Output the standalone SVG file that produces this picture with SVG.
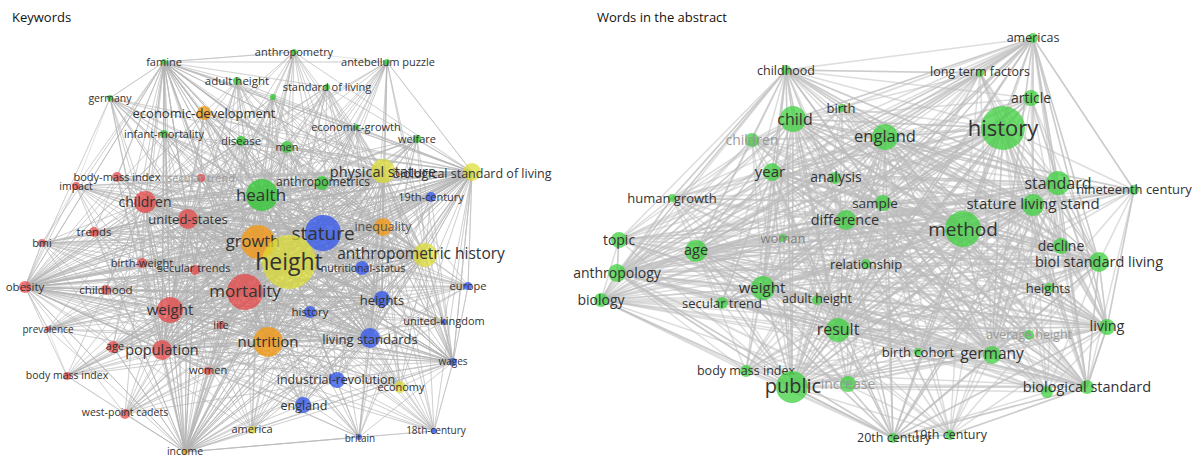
<svg xmlns="http://www.w3.org/2000/svg" width="1194" height="458" viewBox="0 0 1194 458">
<style>
.e1{fill:none;stroke:#b4b4b4;stroke-width:.75;stroke-opacity:.5}
.e2{fill:none;stroke:#bcbcbc;stroke-width:1.5;stroke-opacity:.5}
text{font-family:"Open Sans","Noto Sans",sans-serif;fill:#333;text-anchor:middle}
.title{text-anchor:start;fill:#111;font-size:13px}
text.lt{fill:#999}
text.mg{fill:#808080}
text.md{fill:#555}
.g{fill:#33c833;fill-opacity:.78}
.r{fill:#e84444;fill-opacity:.72}
.b{fill:#3558ea;fill-opacity:.78}
.o{fill:#f29a18;fill-opacity:.8}
.y{fill:#dcdc30;fill-opacity:.72}
.gr{fill:#3fd03f;fill-opacity:.75}
</style>
<rect width="1194" height="458" fill="#fff"/>
<text class="title" x="12" y="22">Keywords</text>
<text class="title" x="597" y="22">Words in the abstract</text>
<g id="connectors">
<path class="e1" d="M289 262L164 62ZL294 52ZL387 62ZL237 81ZL327 87ZL273 97ZL110 98ZL204 113ZL164 134ZL241 141ZL287 147ZL356 127ZL417 139ZL117 177ZL201 178ZL76 186ZL262 195ZL322 183ZL383 171ZL472 172ZL431 197ZL145 202ZL188 219ZL94 232ZL42 243ZL323 233ZL383 227ZL258 242ZL425 255ZL362 268ZL142 263ZL195 270ZL25 287ZL106 290ZL245 292ZL468 286ZL382 299ZL170 310ZL310 312ZL444 322ZL48 329ZL221 325ZL113 347ZL162 350ZL268 342ZL370 338ZL453 362ZL67 376ZL208 371ZL337 380ZL400 387ZL303 405ZL125 414ZL252 430ZL359 437ZL434 431ZL185 452Z"/>
<path class="e1" d="M323 233L164 62ZL294 52ZL387 62ZL237 81ZL327 87ZL273 97ZL110 98ZL204 113ZL164 134ZL241 141ZL287 147ZL356 127ZL417 139ZL117 177ZL201 178ZL76 186ZL262 195ZL322 183ZL383 171ZL472 172ZL431 197ZL145 202ZL188 219ZL94 232ZL42 243ZL383 227ZL258 242ZL289 262ZL425 255ZL362 268ZL142 263ZL195 270ZL25 287ZL106 290ZL245 292ZL468 286ZL382 299ZL170 310ZL310 312ZL444 322ZL48 329ZL221 325ZL113 347ZL162 350ZL268 342ZL370 338ZL453 362ZL67 376ZL208 371ZL337 380ZL400 387ZL303 405ZL125 414ZL252 430ZL359 437ZL434 431ZL185 452Z"/>
<path class="e1" d="M245 292L164 62ZL294 52ZL387 62ZL237 81ZL327 87ZL273 97ZL110 98ZL204 113ZL164 134ZL241 141ZL287 147ZL356 127ZL417 139ZL117 177ZL201 178ZL76 186ZL262 195ZL322 183ZL383 171ZL472 172ZL431 197ZL145 202ZL188 219ZL94 232ZL42 243ZL323 233ZL383 227ZL258 242ZL289 262ZL425 255ZL362 268ZL142 263ZL195 270ZL25 287ZL106 290ZL468 286ZL382 299ZL170 310ZL310 312ZL444 322ZL48 329ZL221 325ZL113 347ZL162 350ZL268 342ZL370 338ZL453 362ZL67 376ZL208 371ZL337 380ZL400 387ZL303 405ZL125 414ZL252 430ZL359 437ZL434 431ZL185 452Z"/>
<path class="e1" d="M258 242L164 62ZL294 52ZL387 62ZL237 81ZL327 87ZL273 97ZL110 98ZL204 113ZL164 134ZL241 141ZL287 147ZL356 127ZL417 139ZL117 177ZL201 178ZL76 186ZL262 195ZL322 183ZL383 171ZL472 172ZL431 197ZL145 202ZL188 219ZL94 232ZL42 243ZL323 233ZL383 227ZL289 262ZL425 255ZL362 268ZL142 263ZL195 270ZL25 287ZL106 290ZL245 292ZL468 286ZL382 299ZL170 310ZL310 312ZL444 322ZL48 329ZL221 325ZL113 347ZL162 350ZL268 342ZL370 338ZL453 362ZL67 376ZL208 371ZL337 380ZL400 387ZL303 405ZL125 414ZL252 430ZL359 437ZL434 431ZL185 452Z"/>
<path class="e1" d="M262 195L164 62ZL294 52ZL387 62ZL237 81ZL327 87ZL273 97ZL110 98ZL204 113ZL164 134ZL241 141ZL287 147ZL356 127ZL417 139ZL117 177ZL201 178ZL76 186ZL322 183ZL383 171ZL472 172ZL431 197ZL145 202ZL188 219ZL94 232ZL42 243ZL323 233ZL383 227ZL258 242ZL289 262ZL425 255ZL362 268ZL142 263ZL195 270ZL25 287ZL106 290ZL245 292ZL468 286ZL382 299ZL170 310ZL310 312ZL444 322ZL48 329ZL221 325ZL113 347ZL162 350ZL268 342ZL370 338ZL453 362ZL67 376ZL208 371ZL337 380ZL400 387ZL303 405ZL125 414ZL252 430ZL359 437ZL434 431ZL185 452Z"/>
<path class="e1" d="M268 342L164 62ZL294 52ZL387 62ZL237 81ZL327 87ZL273 97ZL110 98ZL204 113ZL164 134ZL241 141ZL287 147ZL356 127ZL417 139ZL117 177ZL201 178ZL76 186ZL262 195ZL322 183ZL383 171ZL472 172ZL431 197ZL145 202ZL188 219ZL94 232ZL42 243ZL323 233ZL383 227ZL258 242ZL289 262ZL425 255ZL362 268ZL142 263ZL195 270ZL25 287ZL106 290ZL245 292ZL468 286ZL382 299ZL170 310ZL310 312ZL444 322ZL48 329ZL221 325ZL113 347ZL162 350ZL370 338ZL453 362ZL67 376ZL208 371ZL337 380ZL400 387ZL303 405ZL125 414ZL252 430ZL359 437ZL434 431ZL185 452Z"/>
<path class="e1" d="M170 310L164 62ZL294 52ZL387 62ZL237 81ZL327 87ZL273 97ZL110 98ZL204 113ZL164 134ZL241 141ZL287 147ZL356 127ZL417 139ZL117 177ZL201 178ZL76 186ZL262 195ZL322 183ZL383 171ZL472 172ZL431 197ZL145 202ZL188 219ZL94 232ZL42 243ZL323 233ZL383 227ZL258 242ZL289 262ZL425 255ZL362 268ZL142 263ZL195 270ZL25 287ZL106 290ZL245 292ZL468 286ZL382 299ZL310 312ZL444 322ZL48 329ZL221 325ZL113 347ZL162 350ZL268 342ZL370 338ZL453 362ZL67 376ZL208 371ZL337 380ZL400 387ZL303 405ZL125 414ZL252 430ZL359 437ZL434 431ZL185 452Z"/>
<path class="e1" d="M145 202L164 62ZL294 52ZL387 62ZL237 81ZL327 87ZL273 97ZL110 98ZL204 113ZL164 134ZL241 141ZL287 147ZL356 127ZL417 139ZL117 177ZL201 178ZL76 186ZL262 195ZL322 183ZL383 171ZL472 172ZL431 197ZL188 219ZL94 232ZL42 243ZL323 233ZL383 227ZL258 242ZL289 262ZL425 255ZL362 268ZL142 263ZL195 270ZL25 287ZL106 290ZL245 292ZL468 286ZL382 299ZL170 310ZL310 312ZL444 322ZL48 329ZL221 325ZL113 347ZL162 350ZL268 342ZL370 338ZL453 362ZL67 376ZL208 371ZL337 380ZL400 387ZL303 405ZL125 414ZL252 430ZL359 437ZL434 431ZL185 452Z"/>
<path class="e1" d="M162 350L164 62ZL294 52ZL387 62ZL237 81ZL327 87ZL273 97ZL110 98ZL204 113ZL164 134ZL241 141ZL287 147ZL356 127ZL417 139ZL117 177ZL201 178ZL76 186ZL262 195ZL322 183ZL383 171ZL472 172ZL431 197ZL145 202ZL188 219ZL94 232ZL42 243ZL323 233ZL383 227ZL258 242ZL289 262ZL425 255ZL362 268ZL142 263ZL195 270ZL25 287ZL106 290ZL245 292ZL468 286ZL382 299ZL170 310ZL310 312ZL444 322ZL48 329ZL221 325ZL113 347ZL268 342ZL370 338ZL453 362ZL67 376ZL208 371ZL337 380ZL400 387ZL303 405ZL125 414ZL252 430ZL359 437ZL434 431ZL185 452Z"/>
<path class="e1" d="M188 219L164 62ZL294 52ZL387 62ZL237 81ZL327 87ZL273 97ZL110 98ZL204 113ZL164 134ZL241 141ZL287 147ZL356 127ZL417 139ZL117 177ZL201 178ZL76 186ZL262 195ZL322 183ZL383 171ZL472 172ZL431 197ZL145 202ZL94 232ZL42 243ZL323 233ZL383 227ZL258 242ZL289 262ZL425 255ZL362 268ZL142 263ZL195 270ZL25 287ZL106 290ZL245 292ZL468 286ZL382 299ZL170 310ZL310 312ZL444 322ZL48 329ZL221 325ZL113 347ZL162 350ZL268 342ZL370 338ZL453 362ZL67 376ZL208 371ZL337 380ZL400 387ZL303 405ZL125 414ZL252 430ZL359 437ZL434 431ZL185 452Z"/>
<path class="e1" d="M370 338L164 62ZL294 52ZL387 62ZL237 81ZL327 87ZL273 97ZL110 98ZL204 113ZL164 134ZL241 141ZL287 147ZL356 127ZL417 139ZL117 177ZL201 178ZL76 186ZL262 195ZL322 183ZL383 171ZL472 172ZL431 197ZL145 202ZL188 219ZL94 232ZL42 243ZL323 233ZL383 227ZL258 242ZL289 262ZL425 255ZL362 268ZL142 263ZL195 270ZL25 287ZL106 290ZL245 292ZL468 286ZL382 299ZL170 310ZL310 312ZL444 322ZL48 329ZL221 325ZL113 347ZL162 350ZL268 342ZL453 362ZL67 376ZL208 371ZL337 380ZL400 387ZL303 405ZL125 414ZL252 430ZL359 437ZL434 431ZL185 452Z"/>
<path class="e1" d="M425 255L164 62ZL294 52ZL387 62ZL237 81ZL327 87ZL273 97ZL110 98ZL204 113ZL164 134ZL241 141ZL287 147ZL356 127ZL417 139ZL117 177ZL201 178ZL76 186ZL262 195ZL322 183ZL383 171ZL472 172ZL431 197ZL145 202ZL188 219ZL94 232ZL42 243ZL323 233ZL383 227ZL258 242ZL289 262ZL362 268ZL142 263ZL195 270ZL25 287ZL106 290ZL245 292ZL468 286ZL382 299ZL170 310ZL310 312ZL444 322ZL48 329ZL221 325ZL113 347ZL162 350ZL268 342ZL370 338ZL453 362ZL67 376ZL208 371ZL337 380ZL400 387ZL303 405ZL125 414ZL252 430ZL359 437ZL434 431ZL185 452Z"/>
<path class="e1" d="M383 171L164 62ZL294 52ZL387 62ZL237 81ZL327 87ZL273 97ZL110 98ZL204 113ZL164 134ZL241 141ZL287 147ZL356 127ZL417 139ZL117 177ZL201 178ZL76 186ZL262 195ZL322 183ZL472 172ZL431 197ZL145 202ZL188 219ZL94 232ZL42 243ZL323 233ZL383 227ZL258 242ZL289 262ZL425 255ZL362 268ZL142 263ZL195 270ZL25 287ZL106 290ZL245 292ZL468 286ZL382 299ZL170 310ZL310 312ZL444 322ZL48 329ZL221 325ZL113 347ZL162 350ZL268 342ZL370 338ZL453 362ZL67 376ZL208 371ZL337 380ZL400 387ZL303 405ZL125 414ZL252 430ZL359 437ZL434 431ZL185 452Z"/>
<path class="e1" d="M383 227L164 62ZL294 52ZL387 62ZL237 81ZL327 87ZL273 97ZL110 98ZL204 113ZL164 134ZL241 141ZL287 147ZL356 127ZL417 139ZL117 177ZL201 178ZL76 186ZL262 195ZL322 183ZL383 171ZL472 172ZL431 197ZL145 202ZL188 219ZL94 232ZL42 243ZL323 233ZL258 242ZL289 262ZL425 255ZL362 268ZL142 263ZL195 270ZL25 287ZL106 290ZL245 292ZL468 286ZL382 299ZL170 310ZL310 312ZL444 322ZL48 329ZL221 325ZL113 347ZL162 350ZL268 342ZL370 338ZL453 362ZL67 376ZL208 371ZL337 380ZL400 387ZL303 405ZL125 414ZL252 430ZL359 437ZL434 431ZL185 452Z"/>
<path class="e1" d="M382 299L164 62ZL294 52ZL387 62ZL237 81ZL327 87ZL273 97ZL110 98ZL204 113ZL164 134ZL241 141ZL287 147ZL356 127ZL417 139ZL117 177ZL201 178ZL76 186ZL262 195ZL322 183ZL383 171ZL472 172ZL431 197ZL145 202ZL188 219ZL94 232ZL42 243ZL323 233ZL383 227ZL258 242ZL289 262ZL425 255ZL362 268ZL142 263ZL195 270ZL25 287ZL106 290ZL245 292ZL468 286ZL170 310ZL310 312ZL444 322ZL48 329ZL221 325ZL113 347ZL162 350ZL268 342ZL370 338ZL453 362ZL67 376ZL208 371ZL337 380ZL400 387ZL303 405ZL125 414ZL252 430ZL359 437ZL434 431ZL185 452Z"/>
<path class="e1" d="M472 172L164 62ZL294 52ZL387 62ZL237 81ZL327 87ZL273 97ZL110 98ZL204 113ZL164 134ZL241 141ZL287 147ZL356 127ZL417 139ZL117 177ZL201 178ZL76 186ZL262 195ZL322 183ZL383 171ZL431 197ZL145 202ZL188 219ZL94 232ZL42 243ZL323 233ZL383 227ZL258 242ZL289 262ZL425 255ZL362 268ZL142 263ZL195 270ZL25 287ZL106 290ZL245 292ZL468 286ZL382 299ZL170 310ZL310 312ZL444 322ZL48 329ZL221 325ZL113 347ZL162 350ZL268 342ZL370 338ZL453 362ZL67 376ZL208 371ZL337 380ZL400 387ZL303 405ZL125 414ZL252 430ZL359 437ZL434 431ZL185 452Z"/>
<path class="e1" d="M25 287L164 62ZL294 52ZL387 62ZL237 81ZL327 87ZL273 97ZL110 98ZL204 113ZL164 134ZL241 141ZL287 147ZL356 127ZL417 139ZL117 177ZL201 178ZL76 186ZL262 195ZL322 183ZL383 171ZL472 172ZL431 197ZL145 202ZL188 219ZL94 232ZL42 243ZL323 233ZL383 227ZL258 242ZL289 262ZL425 255ZL362 268ZL142 263ZL195 270ZL106 290ZL245 292ZL468 286ZL382 299ZL170 310ZL310 312ZL444 322ZL48 329ZL221 325ZL113 347ZL162 350ZL268 342ZL370 338ZL453 362ZL67 376ZL208 371ZL337 380ZL400 387ZL303 405ZL125 414ZL252 430ZL359 437ZL434 431ZL185 452Z"/>
<path class="e1" d="M185 452L164 62ZL294 52ZL387 62ZL237 81ZL327 87ZL273 97ZL110 98ZL204 113ZL164 134ZL241 141ZL287 147ZL356 127ZL417 139ZL117 177ZL201 178ZL76 186ZL262 195ZL322 183ZL383 171ZL472 172ZL431 197ZL145 202ZL188 219ZL94 232ZL42 243ZL323 233ZL383 227ZL258 242ZL289 262ZL425 255ZL362 268ZL142 263ZL195 270ZL25 287ZL106 290ZL245 292ZL468 286ZL382 299ZL170 310ZL310 312ZL444 322ZL48 329ZL221 325ZL113 347ZL162 350ZL268 342ZL370 338ZL453 362ZL67 376ZL208 371ZL337 380ZL400 387ZL303 405ZL125 414ZL252 430ZL359 437ZL434 431Z"/>
<path class="e1" d="M164 62L294 52ZL387 62ZL237 81ZL327 87ZL273 97ZL110 98ZL204 113ZL164 134ZL241 141ZL287 147ZL356 127ZL117 177ZL201 178ZL76 186ZL262 195ZL322 183ZL383 171ZL472 172ZL145 202ZL188 219ZL94 232ZL42 243ZL323 233ZL383 227ZL258 242ZL289 262ZL425 255ZL142 263ZL195 270ZL25 287ZL106 290ZL245 292ZL170 310ZL113 347ZL162 350ZL268 342ZL370 338Z"/>
<path class="e1" d="M453 362L387 62ZL327 87ZL356 127ZL417 139ZL262 195ZL322 183ZL383 171ZL472 172ZL431 197ZL145 202ZL188 219ZL323 233ZL383 227ZL258 242ZL289 262ZL425 255ZL362 268ZL245 292ZL468 286ZL382 299ZL170 310ZL310 312ZL444 322ZL221 325ZL162 350ZL268 342ZL370 338ZL208 371ZL337 380ZL400 387ZL303 405ZL125 414ZL252 430ZL359 437ZL434 431Z"/>
<path class="e1" d="M164 62L294 52L387 62L472 172L468 286L453 362L434 431L359 437L185 452L125 414L67 376L48 329L25 287L42 243L76 186L110 98Z"/>
<path class="e2" d="M1003 128L1033 38ZL786 70ZL980 73ZL842 108ZL793 119ZL1031 98ZL885 137ZL752 140ZL772 172ZL835 178ZL1058 183ZL1134 190ZL883 203ZL1033 205ZL672 198ZL963 229ZL846 220ZL619 240ZL783 238ZL696 251ZL1061 246ZL617 273ZL1099 262ZL866 264ZL763 288ZL601 300ZL722 303ZL817 300ZL1049 288ZL838 330ZL1107 327ZL1029 335ZL918 352ZL992 355ZL746 371ZL792 387ZL848 384ZL1087 387ZL1047 392ZL893 438ZL950 435Z"/>
<path class="e2" d="M963 229L1033 38ZL786 70ZL980 73ZL842 108ZL793 119ZL1031 98ZL1003 128ZL885 137ZL752 140ZL772 172ZL835 178ZL1058 183ZL1134 190ZL883 203ZL1033 205ZL672 198ZL846 220ZL619 240ZL783 238ZL696 251ZL1061 246ZL617 273ZL1099 262ZL866 264ZL763 288ZL601 300ZL722 303ZL817 300ZL1049 288ZL838 330ZL1107 327ZL1029 335ZL918 352ZL992 355ZL746 371ZL792 387ZL848 384ZL1087 387ZL1047 392ZL893 438ZL950 435Z"/>
<path class="e2" d="M792 387L1033 38ZL786 70ZL980 73ZL842 108ZL793 119ZL1031 98ZL1003 128ZL885 137ZL752 140ZL772 172ZL835 178ZL1058 183ZL1134 190ZL883 203ZL1033 205ZL672 198ZL963 229ZL846 220ZL619 240ZL783 238ZL696 251ZL1061 246ZL617 273ZL1099 262ZL866 264ZL763 288ZL601 300ZL722 303ZL817 300ZL1049 288ZL838 330ZL1107 327ZL1029 335ZL918 352ZL992 355ZL746 371ZL848 384ZL1087 387ZL1047 392ZL893 438ZL950 435Z"/>
<path class="e2" d="M838 330L1033 38ZL786 70ZL980 73ZL842 108ZL793 119ZL1031 98ZL1003 128ZL885 137ZL752 140ZL772 172ZL835 178ZL1058 183ZL1134 190ZL883 203ZL1033 205ZL672 198ZL963 229ZL846 220ZL619 240ZL783 238ZL696 251ZL1061 246ZL617 273ZL1099 262ZL866 264ZL763 288ZL601 300ZL722 303ZL817 300ZL1049 288ZL1107 327ZL1029 335ZL918 352ZL992 355ZL746 371ZL792 387ZL848 384ZL1087 387ZL1047 392ZL893 438ZL950 435Z"/>
<path class="e2" d="M763 288L1033 38ZL786 70ZL980 73ZL842 108ZL793 119ZL1031 98ZL1003 128ZL885 137ZL752 140ZL772 172ZL835 178ZL1058 183ZL1134 190ZL883 203ZL1033 205ZL672 198ZL963 229ZL846 220ZL619 240ZL783 238ZL696 251ZL1061 246ZL617 273ZL1099 262ZL866 264ZL601 300ZL722 303ZL817 300ZL1049 288ZL838 330ZL1107 327ZL1029 335ZL918 352ZL992 355ZL746 371ZL792 387ZL848 384ZL1087 387ZL1047 392ZL893 438ZL950 435Z"/>
<path class="e2" d="M696 251L1033 38ZL786 70ZL980 73ZL842 108ZL793 119ZL1031 98ZL1003 128ZL885 137ZL752 140ZL772 172ZL835 178ZL1058 183ZL1134 190ZL883 203ZL1033 205ZL672 198ZL963 229ZL846 220ZL619 240ZL783 238ZL1061 246ZL617 273ZL1099 262ZL866 264ZL763 288ZL601 300ZL722 303ZL817 300ZL1049 288ZL838 330ZL1107 327ZL1029 335ZL918 352ZL992 355ZL746 371ZL792 387ZL848 384ZL1087 387ZL1047 392ZL893 438ZL950 435Z"/>
<path class="e2" d="M793 119L1033 38ZL786 70ZL980 73ZL842 108ZL1031 98ZL1003 128ZL885 137ZL752 140ZL772 172ZL835 178ZL1058 183ZL1134 190ZL883 203ZL1033 205ZL672 198ZL963 229ZL846 220ZL619 240ZL783 238ZL696 251ZL1061 246ZL617 273ZL1099 262ZL866 264ZL763 288ZL601 300ZL722 303ZL817 300ZL1049 288ZL838 330ZL1107 327ZL1029 335ZL918 352ZL992 355ZL746 371ZL792 387ZL848 384ZL1087 387ZL1047 392ZL893 438ZL950 435Z"/>
<path class="e2" d="M885 137L1033 38ZL786 70ZL980 73ZL842 108ZL793 119ZL1031 98ZL1003 128ZL752 140ZL772 172ZL835 178ZL1058 183ZL1134 190ZL883 203ZL1033 205ZL672 198ZL963 229ZL846 220ZL619 240ZL783 238ZL696 251ZL1061 246ZL617 273ZL1099 262ZL866 264ZL763 288ZL601 300ZL722 303ZL817 300ZL1049 288ZL838 330ZL1107 327ZL1029 335ZL918 352ZL992 355ZL746 371ZL792 387ZL848 384ZL1087 387ZL1047 392ZL893 438ZL950 435Z"/>
<path class="e2" d="M1058 183L1033 38ZL786 70ZL980 73ZL842 108ZL793 119ZL1031 98ZL1003 128ZL885 137ZL752 140ZL772 172ZL835 178ZL1134 190ZL883 203ZL1033 205ZL672 198ZL963 229ZL846 220ZL619 240ZL783 238ZL696 251ZL1061 246ZL617 273ZL1099 262ZL866 264ZL763 288ZL601 300ZL722 303ZL817 300ZL1049 288ZL838 330ZL1107 327ZL1029 335ZL918 352ZL992 355ZL746 371ZL792 387ZL848 384ZL1087 387ZL1047 392ZL893 438ZL950 435Z"/>
<path class="e2" d="M1033 205L1033 38ZL786 70ZL980 73ZL842 108ZL793 119ZL1031 98ZL1003 128ZL885 137ZL752 140ZL772 172ZL835 178ZL1058 183ZL1134 190ZL883 203ZL672 198ZL963 229ZL846 220ZL619 240ZL783 238ZL696 251ZL1061 246ZL617 273ZL1099 262ZL866 264ZL763 288ZL601 300ZL722 303ZL817 300ZL1049 288ZL838 330ZL1107 327ZL1029 335ZL918 352ZL992 355ZL746 371ZL792 387ZL848 384ZL1087 387ZL1047 392ZL893 438ZL950 435Z"/>
<path class="e2" d="M992 355L1033 38ZL786 70ZL980 73ZL842 108ZL793 119ZL1031 98ZL1003 128ZL885 137ZL752 140ZL772 172ZL835 178ZL1058 183ZL1134 190ZL883 203ZL1033 205ZL672 198ZL963 229ZL846 220ZL619 240ZL783 238ZL696 251ZL1061 246ZL617 273ZL1099 262ZL866 264ZL763 288ZL601 300ZL722 303ZL817 300ZL1049 288ZL838 330ZL1107 327ZL1029 335ZL918 352ZL746 371ZL792 387ZL848 384ZL1087 387ZL1047 392ZL893 438ZL950 435Z"/>
<path class="e2" d="M846 220L1033 38ZL786 70ZL980 73ZL842 108ZL793 119ZL1031 98ZL1003 128ZL885 137ZL752 140ZL772 172ZL835 178ZL1058 183ZL1134 190ZL883 203ZL1033 205ZL672 198ZL963 229ZL619 240ZL783 238ZL696 251ZL1061 246ZL617 273ZL1099 262ZL866 264ZL763 288ZL601 300ZL722 303ZL817 300ZL1049 288ZL838 330ZL1107 327ZL1029 335ZL918 352ZL992 355ZL746 371ZL792 387ZL848 384ZL1087 387ZL1047 392ZL893 438ZL950 435Z"/>
<path class="e2" d="M1099 262L1033 38ZL786 70ZL980 73ZL842 108ZL793 119ZL1031 98ZL1003 128ZL885 137ZL752 140ZL772 172ZL835 178ZL1058 183ZL1134 190ZL883 203ZL1033 205ZL672 198ZL963 229ZL846 220ZL619 240ZL783 238ZL696 251ZL1061 246ZL617 273ZL866 264ZL763 288ZL601 300ZL722 303ZL817 300ZL1049 288ZL838 330ZL1107 327ZL1029 335ZL918 352ZL992 355ZL746 371ZL792 387ZL848 384ZL1087 387ZL1047 392ZL893 438ZL950 435Z"/>
<path class="e2" d="M772 172L1033 38ZL786 70ZL980 73ZL842 108ZL793 119ZL1031 98ZL1003 128ZL885 137ZL752 140ZL835 178ZL1058 183ZL1134 190ZL883 203ZL1033 205ZL672 198ZL963 229ZL846 220ZL619 240ZL783 238ZL696 251ZL1061 246ZL617 273ZL1099 262ZL866 264ZL763 288ZL601 300ZL722 303ZL817 300ZL1049 288ZL838 330ZL1107 327ZL1029 335ZL918 352ZL992 355ZL746 371ZL792 387ZL848 384ZL1087 387ZL1047 392ZL893 438ZL950 435Z"/>
<path class="e2" d="M617 273L1033 38ZL786 70ZL980 73ZL842 108ZL793 119ZL1031 98ZL1003 128ZL885 137ZL752 140ZL772 172ZL835 178ZL1058 183ZL1134 190ZL883 203ZL1033 205ZL672 198ZL963 229ZL846 220ZL619 240ZL783 238ZL696 251ZL1061 246ZL1099 262ZL866 264ZL763 288ZL601 300ZL722 303ZL817 300ZL1049 288ZL838 330ZL1107 327ZL1029 335ZL918 352ZL992 355ZL746 371ZL792 387ZL848 384ZL1087 387ZL1047 392ZL893 438ZL950 435Z"/>
<path class="e2" d="M1107 327L1033 38ZL786 70ZL980 73ZL842 108ZL793 119ZL1031 98ZL1003 128ZL885 137ZL752 140ZL772 172ZL835 178ZL1058 183ZL1134 190ZL883 203ZL1033 205ZL672 198ZL963 229ZL846 220ZL619 240ZL783 238ZL696 251ZL1061 246ZL617 273ZL1099 262ZL866 264ZL763 288ZL601 300ZL722 303ZL817 300ZL1049 288ZL838 330ZL1029 335ZL918 352ZL992 355ZL746 371ZL792 387ZL848 384ZL1087 387ZL1047 392ZL893 438ZL950 435Z"/>
<path class="e2" d="M883 203L1033 38ZL786 70ZL980 73ZL842 108ZL793 119ZL1031 98ZL1003 128ZL885 137ZL752 140ZL772 172ZL835 178ZL1058 183ZL1134 190ZL1033 205ZL672 198ZL963 229ZL846 220ZL619 240ZL783 238ZL696 251ZL1061 246ZL617 273ZL1099 262ZL866 264ZL763 288ZL601 300ZL722 303ZL817 300ZL1049 288ZL838 330ZL1107 327ZL1029 335ZL918 352ZL992 355ZL746 371ZL792 387ZL848 384ZL1087 387ZL1047 392ZL893 438ZL950 435Z"/>
<path class="e2" d="M1087 387L1033 38ZL786 70ZL980 73ZL842 108ZL793 119ZL1031 98ZL1003 128ZL885 137ZL752 140ZL772 172ZL835 178ZL1058 183ZL1134 190ZL883 203ZL1033 205ZL672 198ZL963 229ZL846 220ZL619 240ZL783 238ZL696 251ZL1061 246ZL617 273ZL1099 262ZL866 264ZL763 288ZL601 300ZL722 303ZL817 300ZL1049 288ZL838 330ZL1107 327ZL1029 335ZL918 352ZL992 355ZL746 371ZL792 387ZL848 384ZL1047 392ZL893 438ZL950 435Z"/>
<path class="e2" d="M1033 38L786 70ZL980 73ZL842 108ZL793 119ZL1031 98ZL885 137ZL752 140ZL772 172ZL835 178ZL1058 183ZL1134 190ZL883 203ZL1033 205ZL672 198ZL963 229ZL846 220ZL619 240ZL696 251ZL1061 246ZL617 273ZL1099 262ZL763 288ZL601 300ZL838 330ZL1107 327ZL992 355ZL792 387ZL1087 387Z"/>
<path class="e2" d="M786 70L980 73ZL842 108ZL793 119ZL1031 98ZL885 137ZL752 140ZL772 172ZL835 178ZL1058 183ZL883 203ZL1033 205ZL672 198ZL963 229ZL846 220ZL619 240ZL696 251ZL617 273ZL1099 262ZL763 288ZL601 300ZL722 303ZL838 330ZL992 355ZL792 387Z"/>
<path class="e2" d="M893 438L950 435ZL1003 128ZL885 137ZL772 172ZL1058 183ZL1033 205ZL963 229ZL846 220ZL696 251ZL617 273ZL1099 262ZL763 288ZL601 300ZL838 330ZL1107 327ZL992 355ZL746 371ZL792 387ZL1087 387ZL1047 392Z"/>
<path class="e2" d="M601 300L619 240ZL672 198ZL752 140ZL746 371ZL722 303ZL783 238ZL817 300ZL866 264ZL918 352ZL848 384ZL1029 335ZL1049 288Z"/>
<path class="e2" d="M1033 38L1134 190L1107 327L1087 387L950 435L893 438L792 387L601 300L617 273L619 240L672 198L786 70L980 73Z"/>
</g>
<g id="k-famine"><circle class="g" cx="164" cy="62" r="3"/><text x="164" y="62" dy=".35em" font-size="11">famine</text></g>
<g id="k-anthropometry"><circle class="g" cx="294" cy="52" r="3"/><text x="294" y="52" dy=".35em" font-size="11">anthropometry</text></g>
<g id="k-antebellum-puzzle"><circle class="g" cx="387" cy="62" r="3"/><text x="388" y="62" dy=".35em" font-size="11">antebellum puzzle</text></g>
<g id="k-adult-height"><circle class="g" cx="237" cy="81" r="4"/><text x="237" y="81" dy=".35em" font-size="11.5">adult height</text></g>
<g id="k-standard-of-living"><circle class="g" cx="327" cy="87" r="3"/><text x="327" y="87" dy=".35em" font-size="11">standard of living</text></g>
<g id="k-unlabeled"><circle class="g" cx="273" cy="97" r="3"/></g>
<g id="k-germany"><circle class="g" cx="110" cy="98" r="3"/><text x="110" y="98" dy=".35em" font-size="10.5">germany</text></g>
<g id="k-economic-development"><circle class="o" cx="204" cy="113" r="7"/><text x="204" y="113" dy=".35em" font-size="13">economic-development</text></g>
<g id="k-infant-mortality"><circle class="g" cx="164" cy="134" r="4"/><text x="164" y="134" dy=".35em" font-size="11">infant-mortality</text></g>
<g id="k-disease"><circle class="g" cx="241" cy="141" r="5"/><text x="241" y="141" dy=".35em" font-size="11.5">disease</text></g>
<g id="k-men"><circle class="g" cx="287" cy="147" r="6"/><text x="287" y="147" dy=".35em" font-size="11">men</text></g>
<g id="k-economic-growth"><circle class="g" cx="356" cy="127" r="3"/><text x="356" y="127" dy=".35em" font-size="11">economic-growth</text></g>
<g id="k-welfare"><circle class="g" cx="417" cy="139" r="4"/><text x="417" y="139" dy=".35em" font-size="11">welfare</text></g>
<g id="k-body-mass-index-h"><circle class="r" cx="117" cy="177" r="5"/><text x="117" y="177" dy=".35em" font-size="11">body-mass index</text></g>
<g id="k-secular-trend"><circle class="r" cx="201" cy="178" r="4"/><text class="lt" x="201" y="178" dy=".35em" font-size="11">secular trend</text></g>
<g id="k-impact"><circle class="r" cx="76" cy="186" r="4"/><text x="76" y="186" dy=".35em" font-size="10.5">impact</text></g>
<g id="k-19th-century"><circle class="b" cx="431" cy="197" r="5"/><text x="431" y="197" dy=".35em" font-size="11">19th-century</text></g>
<g id="k-trends"><circle class="r" cx="94" cy="232" r="5"/><text x="94" y="232" dy=".35em" font-size="11.5">trends</text></g>
<g id="k-bmi"><circle class="r" cx="42" cy="243" r="4"/><text x="42" y="243" dy=".35em" font-size="11">bmi</text></g>
<g id="k-birth-weight"><circle class="r" cx="142" cy="263" r="5"/><text x="142" y="263" dy=".35em" font-size="11">birth-weight</text></g>
<g id="k-secular-trends"><circle class="r" cx="195" cy="270" r="5"/><text x="194" y="268" dy=".35em" font-size="11">secular trends</text></g>
<g id="k-obesity"><circle class="r" cx="25" cy="287" r="6"/><text x="25" y="287" dy=".35em" font-size="11.5">obesity</text></g>
<g id="k-childhood"><circle class="r" cx="106" cy="290" r="5"/><text x="106" y="290" dy=".35em" font-size="11.5">childhood</text></g>
<g id="k-europe"><circle class="b" cx="468" cy="286" r="4"/><text x="468" y="286" dy=".35em" font-size="11">europe</text></g>
<g id="k-history"><circle class="b" cx="310" cy="312" r="6"/><text x="310" y="312" dy=".35em" font-size="11.5">history</text></g>
<g id="k-united-kingdom"><circle class="b" cx="444" cy="322" r="3"/><text x="444" y="321" dy=".35em" font-size="11">united-kingdom</text></g>
<g id="k-prevalence"><circle class="r" cx="48" cy="329" r="3"/><text x="48" y="329" dy=".35em" font-size="10">prevalence</text></g>
<g id="k-life"><circle class="r" cx="221" cy="325" r="4"/><text x="221" y="325" dy=".35em" font-size="11">life</text></g>
<g id="k-age"><circle class="r" cx="113" cy="347" r="6"/><text x="115" y="346" dy=".35em" font-size="11">age</text></g>
<g id="k-wages"><circle class="b" cx="453" cy="362" r="4"/><text x="453" y="361" dy=".35em" font-size="10">wages</text></g>
<g id="k-body-mass-index"><circle class="r" cx="67" cy="376" r="4"/><text x="67" y="375" dy=".35em" font-size="10.5">body mass index</text></g>
<g id="k-women"><circle class="r" cx="208" cy="371" r="4"/><text x="208" y="370" dy=".35em" font-size="11">women</text></g>
<g id="k-economy"><circle class="y" cx="400" cy="387" r="6"/><text x="401" y="387" dy=".35em" font-size="11">economy</text></g>
<g id="k-west-point-cadets"><circle class="r" cx="125" cy="414" r="5"/><text x="125" y="412" dy=".35em" font-size="10.5">west-point cadets</text></g>
<g id="k-america"><circle class="y" cx="252" cy="430" r="4"/><text x="252" y="429" dy=".35em" font-size="11">america</text></g>
<g id="k-britain"><circle class="b" cx="359" cy="437" r="3"/><text x="360" y="438" dy=".35em" font-size="10">britain</text></g>
<g id="k-18th-century"><circle class="b" cx="434" cy="431" r="3"/><text x="436" y="430" dy=".35em" font-size="10">18th-century</text></g>
<g id="k-income"><circle class="o" cx="185" cy="452" r="3"/><text x="185" y="451" dy=".35em" font-size="10.5">income</text></g>
<g id="k-anthropometrics"><circle class="g" cx="322" cy="183" r="7"/><text x="323" y="182" dy=".35em" font-size="12">anthropometrics</text></g>
<g id="k-nutritional-status"><circle class="b" cx="362" cy="268" r="7"/><text x="363" y="268" dy=".35em" font-size="10.5">nutritional-status</text></g>
<g id="k-heights"><circle class="b" cx="382" cy="299" r="8"/><text x="382" y="300" dy=".35em" font-size="13">heights</text></g>
<g id="k-inequality"><circle class="o" cx="383" cy="227" r="9"/><text class="md" x="383" y="227" dy=".35em" font-size="12.5">inequality</text></g>
<g id="k-industrial-revolution"><circle class="b" cx="337" cy="380" r="8"/><text x="336" y="380" dy=".35em" font-size="12.5">industrial-revolution</text></g>
<g id="k-england"><circle class="b" cx="303" cy="405" r="8"/><text x="304" y="406" dy=".35em" font-size="12.5">england</text></g>
<g id="k-biological-standard-of-living"><circle class="y" cx="472" cy="172" r="9"/><text x="472" y="174" dy=".35em" font-size="12.5">biological standard of living</text></g>
<g id="k-physical-stature"><circle class="y" cx="383" cy="171" r="12"/><text x="383" y="172" dy=".35em" font-size="14.5">physical stature</text></g>
<g id="k-united-states"><circle class="r" cx="188" cy="219" r="10"/><text x="188" y="219" dy=".35em" font-size="13">united-states</text></g>
<g id="k-children"><circle class="r" cx="145" cy="202" r="11"/><text x="145" y="202" dy=".35em" font-size="14">children</text></g>
<g id="k-population"><circle class="r" cx="162" cy="350" r="10"/><text x="162" y="350" dy=".35em" font-size="14.5">population</text></g>
<g id="k-living-standards"><circle class="b" cx="370" cy="338" r="10"/><text x="370" y="339" dy=".35em" font-size="13">living standards</text></g>
<g id="k-anthropometric-history"><circle class="y" cx="425" cy="255" r="12"/><text x="421" y="254" dy=".35em" font-size="15.5">anthropometric history</text></g>
<g id="k-weight"><circle class="r" cx="170" cy="310" r="13"/><text x="170" y="310" dy=".35em" font-size="15">weight</text></g>
<g id="k-nutrition"><circle class="o" cx="268" cy="342" r="15"/><text x="268" y="342" dy=".35em" font-size="15">nutrition</text></g>
<g id="k-health"><circle class="g" cx="262" cy="195" r="16"/><text x="261" y="195" dy=".35em" font-size="17">health</text></g>
<g id="k-mortality"><circle class="r" cx="245" cy="292" r="18"/><text x="245" y="291" dy=".35em" font-size="17">mortality</text></g>
<g id="k-growth"><circle class="o" cx="258" cy="242" r="17"/><text x="253" y="241" dy=".35em" font-size="16.5">growth</text></g>
<g id="k-stature"><circle class="b" cx="323" cy="233" r="18"/><text x="323" y="233" dy=".35em" font-size="19">stature</text></g>
<g id="k-height"><circle class="y" cx="289" cy="262" r="27"/><text x="289" y="262" dy=".35em" font-size="23">height</text></g>
<g id="a-americas"><circle class="gr" cx="1033" cy="38" r="5"/><text x="1033" y="38" dy=".35em" font-size="12.5">americas</text></g>
<g id="a-childhood"><circle class="gr" cx="786" cy="70" r="5"/><text x="786" y="71" dy=".35em" font-size="12.5">childhood</text></g>
<g id="a-long-term-factors"><circle class="gr" cx="980" cy="73" r="4"/><text x="980" y="72" dy=".35em" font-size="12.5">long term factors</text></g>
<g id="a-birth"><circle class="gr" cx="842" cy="108" r="4"/><text x="841" y="108" dy=".35em" font-size="13">birth</text></g>
<g id="a-nineteenth-century"><circle class="gr" cx="1134" cy="190" r="5"/><text x="1134" y="189" dy=".35em" font-size="13">nineteenth century</text></g>
<g id="a-human-growth"><circle class="gr" cx="672" cy="198" r="4"/><text x="672" y="198" dy=".35em" font-size="13">human growth</text></g>
<g id="a-woman"><circle class="gr" cx="783" cy="238" r="4"/><text class="mg" x="783" y="238" dy=".35em" font-size="13">woman</text></g>
<g id="a-relationship"><circle class="gr" cx="866" cy="264" r="5"/><text x="866" y="264" dy=".35em" font-size="13">relationship</text></g>
<g id="a-adult-height"><circle class="gr" cx="817" cy="300" r="5"/><text x="817" y="299" dy=".35em" font-size="12.5">adult height</text></g>
<g id="a-heights"><circle class="gr" cx="1049" cy="288" r="5"/><text x="1048" y="288" dy=".35em" font-size="13">heights</text></g>
<g id="a-average-height"><circle class="gr" cx="1029" cy="335" r="5"/><text class="lt" x="1029" y="335" dy=".35em" font-size="12.5">average height</text></g>
<g id="a-birth-cohort"><circle class="gr" cx="918" cy="352" r="4"/><text x="918" y="352" dy=".35em" font-size="13">birth cohort</text></g>
<g id="a-secular-trend"><circle class="gr" cx="722" cy="303" r="6"/><text x="722" y="303" dy=".35em" font-size="13">secular trend</text></g>
<g id="a-body-mass-index"><circle class="gr" cx="746" cy="371" r="6"/><text x="746" y="371" dy=".35em" font-size="12.5">body mass index</text></g>
<g id="a-unlabeled"><circle class="gr" cx="1047" cy="392" r="6"/></g>
<g id="a-20th-century"><circle class="gr" cx="893" cy="438" r="5"/><text x="894" y="438" dy=".35em" font-size="12.5">20th century</text></g>
<g id="a-19th-century"><circle class="gr" cx="950" cy="435" r="5"/><text x="950" y="435" dy=".35em" font-size="12.5">19th century</text></g>
<g id="a-analysis"><circle class="gr" cx="835" cy="178" r="6"/><text x="836" y="177" dy=".35em" font-size="14">analysis</text></g>
<g id="a-children"><circle class="gr" cx="752" cy="140" r="7"/><text class="lt" x="752" y="140" dy=".35em" font-size="14">children</text></g>
<g id="a-topic"><circle class="gr" cx="619" cy="240" r="8"/><text x="619" y="240" dy=".35em" font-size="14">topic</text></g>
<g id="a-biology"><circle class="gr" cx="601" cy="300" r="7"/><text x="601" y="300" dy=".35em" font-size="14">biology</text></g>
<g id="a-article"><circle class="gr" cx="1031" cy="98" r="8"/><text x="1031" y="98" dy=".35em" font-size="14">article</text></g>
<g id="a-sample"><circle class="gr" cx="883" cy="203" r="8"/><text x="875" y="203" dy=".35em" font-size="13.5">sample</text></g>
<g id="a-decline"><circle class="gr" cx="1061" cy="246" r="8"/><text x="1061" y="246" dy=".35em" font-size="14">decline</text></g>
<g id="a-living"><circle class="gr" cx="1107" cy="327" r="8"/><text x="1107" y="326" dy=".35em" font-size="14.5">living</text></g>
<g id="a-increase"><circle class="gr" cx="848" cy="384" r="8"/><text class="lt" x="848" y="384" dy=".35em" font-size="14">increase</text></g>
<g id="a-biological-standard"><circle class="gr" cx="1087" cy="387" r="7"/><text x="1087" y="387" dy=".35em" font-size="14.5">biological standard</text></g>
<g id="a-year"><circle class="gr" cx="772" cy="172" r="9"/><text x="770" y="172" dy=".35em" font-size="15">year</text></g>
<g id="a-anthropology"><circle class="gr" cx="617" cy="273" r="9"/><text x="617" y="273" dy=".35em" font-size="14">anthropology</text></g>
<g id="a-germany"><circle class="gr" cx="992" cy="355" r="9"/><text x="992" y="354" dy=".35em" font-size="15.5">germany</text></g>
<g id="a-biol-standard-living"><circle class="gr" cx="1099" cy="262" r="10"/><text x="1099" y="262" dy=".35em" font-size="14.5">biol standard living</text></g>
<g id="a-difference"><circle class="gr" cx="846" cy="220" r="10"/><text x="845" y="220" dy=".35em" font-size="14.5">difference</text></g>
<g id="a-age"><circle class="gr" cx="696" cy="251" r="11"/><text x="696" y="250" dy=".35em" font-size="14.5">age</text></g>
<g id="a-stature-living-stand"><circle class="gr" cx="1033" cy="205" r="11"/><text x="1033" y="204" dy=".35em" font-size="15">stature living stand</text></g>
<g id="a-weight"><circle class="gr" cx="763" cy="288" r="12"/><text x="762" y="288" dy=".35em" font-size="15">weight</text></g>
<g id="a-result"><circle class="gr" cx="838" cy="330" r="12"/><text x="838" y="329" dy=".35em" font-size="16">result</text></g>
<g id="a-standard"><circle class="gr" cx="1058" cy="183" r="12"/><text x="1058" y="183" dy=".35em" font-size="16">standard</text></g>
<g id="a-child"><circle class="gr" cx="793" cy="119" r="13"/><text x="795" y="119" dy=".35em" font-size="16">child</text></g>
<g id="a-england"><circle class="gr" cx="885" cy="137" r="13"/><text x="885" y="136" dy=".35em" font-size="16.5">england</text></g>
<g id="a-public"><circle class="gr" cx="792" cy="387" r="16"/><text x="793" y="386" dy=".35em" font-size="20">public</text></g>
<g id="a-method"><circle class="gr" cx="963" cy="229" r="18"/><text x="963" y="229" dy=".35em" font-size="19">method</text></g>
<g id="a-history"><circle class="gr" cx="1003" cy="128" r="22"/><text x="1003" y="128" dy=".35em" font-size="22">history</text></g>
</svg>
